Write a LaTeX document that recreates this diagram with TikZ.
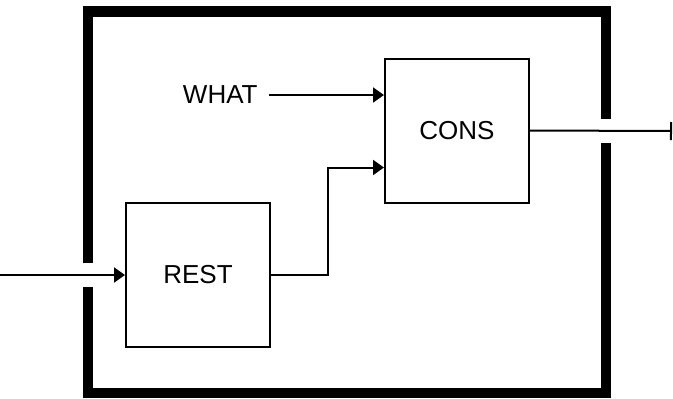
\documentclass[tikz,border=0pt]{standalone}
\usepackage{fontspec}
\setmainfont{Liberation Sans}
\usetikzlibrary{arrows.meta}
\begin{document}
\begin{tikzpicture}[x=1bp,y=-1bp,
  blockbox/.style={draw,line width=2bp,minimum width=144bp,minimum height=144bp,inner sep=0pt,font=\fontsize{26bp}{30bp}\selectfont},
  lbl/.style={inner sep=0pt,font=\fontsize{26bp}{30bp}\selectfont},
  arr/.style={line width=2bp,-{Triangle[length=11bp,width=15bp]}},
  outarr/.style={line width=2bp,-{Bar[width=18bp]}},
  frame/.style={line width=10.5bp,line cap=butt,line join=miter}]
\useasboundingbox (0,0) rectangle (673,398);
% frame with two gaps
\draw[frame] (88,263.3) -- (88,11.5) -- (606,11.5) -- (606,119);
\draw[frame] (606,143.3) -- (606,393) -- (88,393) -- (88,287.3);
% blocks
\node[blockbox] (rest) at (198,275) {REST};
\node[blockbox] (cons) at (457,130.5) {CONS};
\node[lbl] (what) at (220.3,95) {WHAT};
\coordinate (in) at (0,275);
\coordinate (out) at (672,131);
% connectors
\draw[arr] (in) -- (rest.west);
\draw[arr] ([xshift=11bp]what.east) -- (what.east -| cons.west);
\draw[arr] (rest.east) -- ++(57.3,0) |- ([yshift=-37bp]cons.west);
\draw[outarr] (cons.east) -- (out);
\end{tikzpicture}
\end{document}
